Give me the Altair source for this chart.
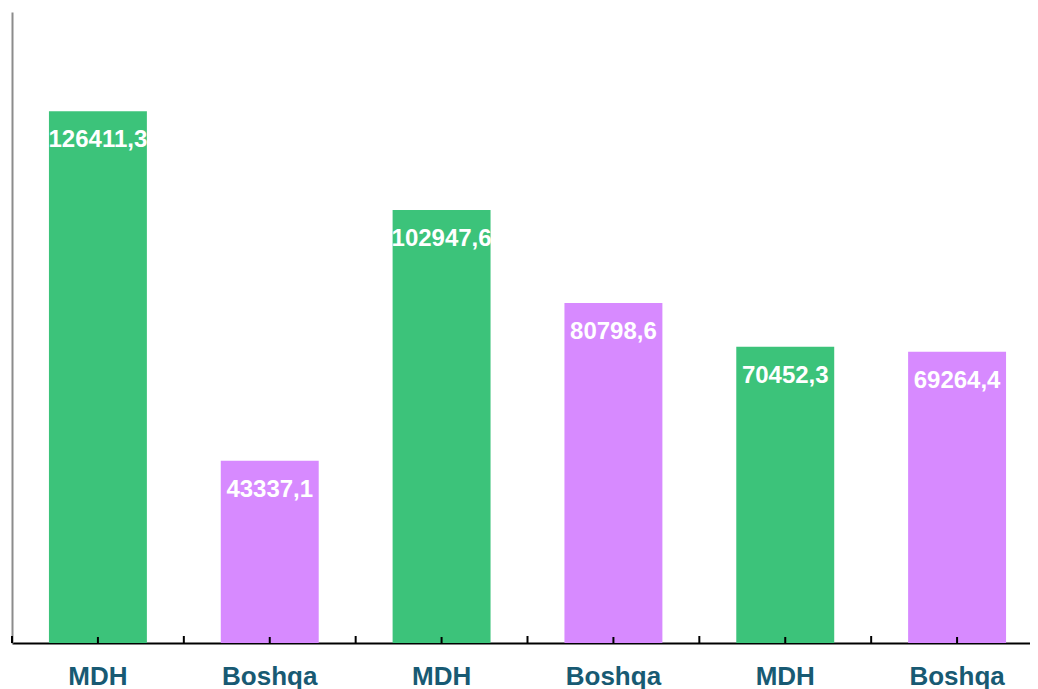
import json
import altair as alt
import pandas as pd

categories = ["MDH", "Boshqa", "MDH", "Boshqa", "MDH", "Boshqa"]
values = [126411.3, 43337.1, 102947.6, 80798.6, 70452.3, 69264.4]
series_names = ["MDH", "Boshqa"]
series_colors = ["#3cc37a", "#d78aff"]

W = 1018          # visible plot width (svg stays within the window)
X_SPAN = 1031     # band range, last band runs past the right edge as in the reference
H = 631
step = X_SPAN / len(categories)

df = pd.DataFrame({
    "id": list(range(len(categories))),
    "cat": categories,
    "value": values,
    "label": [f"{v:.1f}".replace(".", ",") for v in values],
})

label_expr = json.dumps(categories) + "[datum.value]"
FONT = "Liberation Sans"

x_enc = alt.X(
    "id:O",
    scale=alt.Scale(paddingInner=0.43, paddingOuter=0.215, range=[0, X_SPAN]),
    axis=alt.Axis(
        title=None, labelExpr=label_expr, labelAngle=0, ticks=False, tickSize=0,
        domainColor="#000000", domainWidth=2, labelFont=FONT, labelFontSize=26,
        labelFontWeight="bold", labelColor="#185a73", labelPadding=20,
    ),
)

base = alt.Chart(df)

bars = base.mark_bar().encode(
    x=x_enc,
    y=alt.Y(
        "value:Q",
        scale=alt.Scale(domain=[0, 150000], nice=False),
        axis=alt.Axis(title=None, labels=False, ticks=False, grid=False,
                      domainColor="#8c8c8c", domainWidth=2),
    ),
    color=alt.Color("cat:N", scale=alt.Scale(domain=series_names, range=series_colors), legend=None),
)

text = base.mark_text(
    baseline="alphabetic", dy=36, color="white", font=FONT, fontSize=24, fontWeight="bold"
).encode(x="id:O", y="value:Q", text="label:N")

ticks_c = base.mark_rule(color="black", strokeWidth=2).encode(
    x="id:O", y=alt.value(H), y2=alt.value(H - 6)
)
ticks_b = base.mark_rule(color="black", strokeWidth=2, xOffset=-step / 2).encode(
    x="id:O", y=alt.value(H), y2=alt.value(H - 7)
)

chart = alt.layer(bars, text, ticks_c, ticks_b).properties(
    width=W, height=H,
    autosize=alt.AutoSizeParams(type="none"),
    padding={"left": 4, "top": 4, "right": 0, "bottom": 54},
).configure_view(stroke=None)

chart.save("out.html", embed_options={"renderer": "svg", "actions": False})
